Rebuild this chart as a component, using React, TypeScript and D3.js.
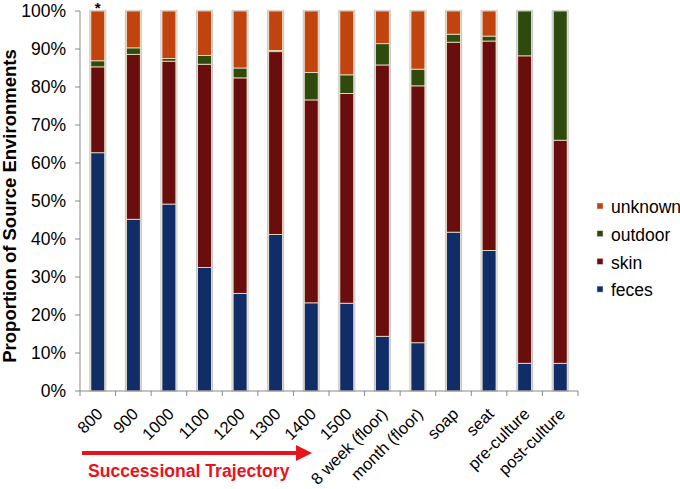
import React from "react";
import * as d3 from "d3";

const categories = ["800", "900", "1000", "1100", "1200", "1300", "1400", "1500", "8 week (floor)", "month (floor)", "soap", "seat", "pre-culture", "post-culture"];
const feces = [62.7, 45.2, 49.2, 32.5, 25.7, 41.2, 23.2, 23.1, 14.4, 12.7, 41.8, 37.0, 7.3, 7.3];
const skin = [22.6, 43.4, 37.6, 53.5, 56.7, 48.1, 53.4, 55.2, 71.4, 67.6, 50.0, 55.1, 80.9, 58.7];
const outdoor = [1.6, 1.7, 0.7, 2.3, 2.6, 0.3, 7.2, 4.9, 5.6, 4.4, 2.1, 1.3, 11.8, 34.0];
const unknown = [13.1, 9.7, 12.5, 11.7, 15.0, 10.4, 16.2, 16.8, 8.6, 15.3, 6.1, 6.6, 0, 0];
const seriesNames = ["feces", "skin", "outdoor", "unknown"];
const yTicks = [0, 10, 20, 30, 40, 50, 60, 70, 80, 90, 100];

const colors: Record<string, string> = {
  feces: "#112d68",
  skin: "#6a0e0d",
  outdoor: "#2f4a0d",
  unknown: "#c1440f",
};

const W = 680;
const H = 489;
const left = 80;
const right = 578;
const top = 11;
const bottom = 391;
const font = "'Liberation Sans', Arial, Helvetica, sans-serif";

export default function App() {
  const rows = categories.map((c, i) => ({
    cat: c,
    feces: feces[i],
    skin: skin[i],
    outdoor: outdoor[i],
    unknown: unknown[i],
  }));
  const stack = d3.stack<any>().keys(seriesNames)(rows);
  const x = d3.scaleBand().domain(categories).range([left, right]).paddingInner(0.61).paddingOuter(0.305);
  const xb = d3.scaleBand().domain(categories).range([left, right]);
  const y = d3.scaleLinear().domain([0, 100]).range([bottom, top]);
  const bw = x.bandwidth();
  const axisColor = "#8a8a8a";
  const legendItems = ["unknown", "outdoor", "skin", "feces"];

  return (
    <svg width={W} height={H} style={{ position: "absolute", left: 0, top: 0, background: "#fff" }} fontFamily={font}>
      {/* bar shadows */}
      {categories.map((c) => (
        <rect key={"sh" + c} x={(x(c) as number) - 1} y={y(100) - 0.5} width={bw + 2} height={y(0) - y(100) + 0.5} fill="none" stroke="#c8c8c8" strokeWidth={1.2} />
      ))}
      {stack.map((s) => (
        <g key={s.key}>
          {s.map((d, i) => {
            const h = y(d[0]) - y(d[1]);
            if (h <= 0) return null;
            return (
              <rect key={i} x={x(categories[i]) as number} y={y(d[1])} width={bw} height={h} fill={colors[s.key]} stroke="#efe6cf" strokeWidth={0.8} />
            );
          })}
        </g>
      ))}
      {/* y axis */}
      <line x1={left} x2={left} y1={top} y2={bottom} stroke={axisColor} strokeWidth={1} />
      {yTicks.map((t) => (
        <g key={t}>
          <line x1={left - 5} x2={left} y1={y(t)} y2={y(t)} stroke={axisColor} />
          <text x={left - 14} y={y(t)} dy="0.35em" textAnchor="end" fontSize={17.5} fill="#000">
            {t}%
          </text>
        </g>
      ))}
      {/* x axis */}
      <line x1={left} x2={right} y1={bottom} y2={bottom} stroke={axisColor} strokeWidth={1} />
      {categories.map((c) => (
        <line key={"t" + c} x1={xb(c) as number} x2={xb(c) as number} y1={bottom} y2={bottom + 5} stroke={axisColor} />
      ))}
      <line x1={right} x2={right} y1={bottom} y2={bottom + 5} stroke={axisColor} />
      {categories.map((c) => {
        const cx = (x(c) as number) + bw / 2 + 6;
        return (
          <text key={"l" + c} transform={`translate(${cx},${415}) rotate(-45)`} textAnchor="end" fontSize={16.5} fill="#000">
            {c}
          </text>
        );
      })}
      {/* y title */}
      <text transform={`translate(16,206) rotate(-90)`} textAnchor="middle" fontSize={18.5} fontWeight="bold" fill="#000">
        Proportion of Source Environments
      </text>
      {/* asterisk */}
      <text x={(x(categories[0]) as number) + bw / 2} y={13} textAnchor="middle" fontSize={15} fontWeight="bold">
        *
      </text>
      {/* legend */}
      {legendItems.map((k, i) => (
        <g key={"lg" + k} transform={`translate(597,${207 + i * 27.7})`}>
          <rect x={0} y={-4} width={6} height={6} fill={colors[k]} stroke="#ddd" strokeWidth={0.5} />
          <text x={14} y={0} dy="0.35em" fontSize={17.5} fill="#000">
            {k}
          </text>
        </g>
      ))}
      {/* arrow */}
      <line x1={82} x2={298} y1={453} y2={453} stroke="#e8141b" strokeWidth={4} />
      <path d={`M296,445 L312,453 L296,461 Z`} fill="#e8141b" />
      <text x={88} y={477} fontSize={17.6} fontWeight="bold" fill="#e8141b">
        Successional Trajectory
      </text>
    </svg>
  );
}
